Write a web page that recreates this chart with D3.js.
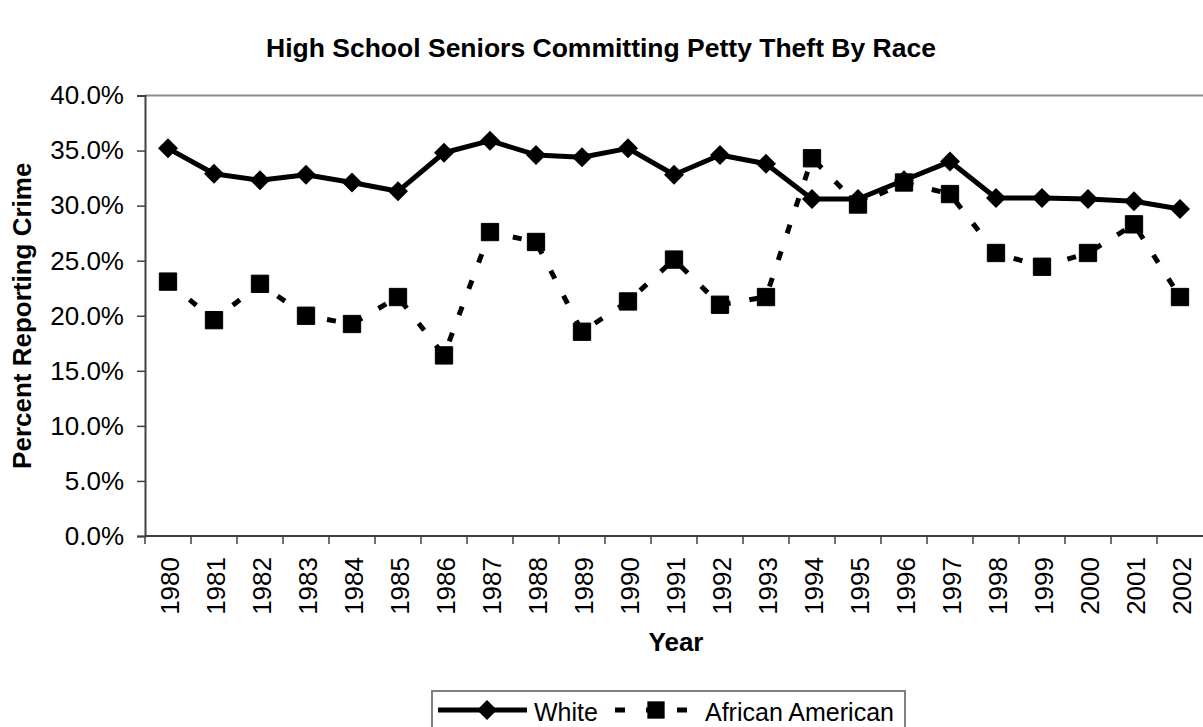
<!DOCTYPE html>
<html>
<head>
<meta charset="UTF-8">
<script src="https://d3js.org/d3.v7.min.js"></script>
<style>
  body { margin: 0; background: #fff; }
  text { font-family: "Liberation Sans", Arial, sans-serif; fill: #000; }
</style>
</head>
<body>
<svg width="1203" height="727"></svg>
<script>
// data
var years = ["1980","1981","1982","1983","1984","1985","1986","1987","1988","1989","1990",
             "1991","1992","1993","1994","1995","1996","1997","1998","1999","2000","2001","2002"];
var white = [35.2, 32.9, 32.3, 32.8, 32.1, 31.3, 34.8, 35.9, 34.6, 34.4, 35.2,
             32.8, 34.6, 33.8, 30.6, 30.6, 32.3, 34.0, 30.7, 30.7, 30.6, 30.4, 29.7];
var african = [23.1, 19.6, 22.9, 20.0, 19.25, 21.7, 16.4, 27.6, 26.7, 18.55, 21.3,
               25.1, 21.0, 21.7, 34.3, 30.1, 32.1, 31.05, 25.7, 24.45, 25.7, 28.3, 21.7];
var yTicks = [0, 5, 10, 15, 20, 25, 30, 35, 40];
var seriesNames = ["White", "African American"];

var svg = d3.select("svg");
var plotL = 145, plotR = 1203, plotT = 95.5, plotB = 536;

var x = d3.scaleBand().domain(years).range([plotL, plotR]).padding(0);
var y = d3.scaleLinear().domain([0, 40]).range([plotB, plotT]);

// title
svg.append("text")
  .attr("x", 601).attr("y", 57)
  .attr("text-anchor", "middle")
  .attr("font-size", "26.5px").attr("font-weight", "bold")
  .text("High School Seniors Committing Petty Theft By Race");

// top border
svg.append("line")
  .attr("x1", plotL).attr("x2", plotR).attr("y1", plotT).attr("y2", plotT)
  .attr("stroke", "#8c8c8c").attr("stroke-width", 2);

// y axis
var yAxis = svg.append("g")
  .attr("transform", "translate(" + plotL + ",0)")
  .call(d3.axisLeft(y).tickValues(yTicks).tickSize(8).tickPadding(13)
        .tickFormat(function(d) { return d.toFixed(1) + "%"; }));
yAxis.select(".domain").attr("stroke", "#404040").attr("stroke-width", 2);
yAxis.selectAll(".tick line").attr("stroke", "#404040").attr("stroke-width", 1.5);
yAxis.selectAll(".tick text").attr("font-size", "26px")
  .attr("font-family", "'Liberation Sans', Arial, sans-serif").attr("fill", "#000");

// x axis line
svg.append("line")
  .attr("x1", plotL).attr("x2", plotR).attr("y1", plotB).attr("y2", plotB)
  .attr("stroke", "#404040").attr("stroke-width", 2);

// x ticks between categories
svg.selectAll(".xtick")
  .data(years)
  .enter().append("line")
  .attr("class", "xtick")
  .attr("x1", function(d) { return x(d); })
  .attr("x2", function(d) { return x(d); })
  .attr("y1", plotB).attr("y2", plotB + 8)
  .attr("stroke", "#404040").attr("stroke-width", 1.5);

// x labels rotated
svg.selectAll(".xlab")
  .data(years)
  .enter().append("text")
  .attr("class", "xlab")
  .attr("transform", function(d) {
    return "translate(" + (x(d) + x.bandwidth() / 2 + 11) + "," + (plotB + 21) + ") rotate(-90)";
  })
  .attr("text-anchor", "end")
  .attr("font-size", "26px")
  .text(function(d) { return d; });

// axis titles
svg.append("text")
  .attr("x", 676).attr("y", 651)
  .attr("text-anchor", "middle")
  .attr("font-size", "26px").attr("font-weight", "bold")
  .text("Year");

svg.append("text")
  .attr("transform", "translate(31," + ((plotT + plotB) / 2) + ") rotate(-90)")
  .attr("text-anchor", "middle")
  .attr("font-size", "26px").attr("font-weight", "bold")
  .text("Percent Reporting Crime");

var cx = function(d, i) { return x(years[i]) + x.bandwidth() / 2; };
var line = d3.line().x(cx).y(function(d) { return y(d); });

// African American (dashed)
svg.append("path")
  .datum(african)
  .attr("d", line)
  .attr("fill", "none").attr("stroke", "#000")
  .attr("stroke-width", 5).attr("stroke-dasharray", "9,19");

// White (solid)
svg.append("path")
  .datum(white)
  .attr("d", line)
  .attr("fill", "none").attr("stroke", "#000")
  .attr("stroke-width", 5).attr("stroke-linejoin", "round");

var diamond = d3.symbol().type(d3.symbolSquare).size(200);
var square = d3.symbol().type(d3.symbolSquare).size(300);

svg.selectAll(".sq")
  .data(african)
  .enter().append("path")
  .attr("class", "sq")
  .attr("d", square)
  .attr("transform", function(d, i) { return "translate(" + cx(d, i) + "," + y(d) + ")"; })
  .attr("fill", "#000").attr("stroke", "#000").attr("stroke-width", 1).attr("stroke-linejoin", "round");

svg.selectAll(".dm")
  .data(white)
  .enter().append("path")
  .attr("class", "dm")
  .attr("d", diamond)
  .attr("transform", function(d, i) { return "translate(" + cx(d, i) + "," + y(d) + ") rotate(45)"; })
  .attr("fill", "#000");

// legend
var lg = svg.append("g");
lg.append("rect")
  .attr("x", 432).attr("y", 691).attr("width", 473).attr("height", 50)
  .attr("fill", "#fff").attr("stroke", "#808080").attr("stroke-width", 2);

lg.append("line")
  .attr("x1", 438).attr("x2", 527).attr("y1", 710).attr("y2", 710)
  .attr("stroke", "#000").attr("stroke-width", 5);
lg.append("path").attr("d", diamond)
  .attr("transform", "translate(487,710) rotate(45)").attr("fill", "#000");
lg.append("text").attr("x", 534).attr("y", 721).attr("font-size", "25px").text(seriesNames[0]);

lg.append("line")
  .attr("x1", 615).attr("x2", 688).attr("y1", 710).attr("y2", 710)
  .attr("stroke", "#000").attr("stroke-width", 5).attr("stroke-dasharray", "10,21");
lg.append("path").attr("d", square)
  .attr("transform", "translate(656,710)").attr("fill", "#000");
lg.append("text").attr("x", 705).attr("y", 721).attr("font-size", "25px").text(seriesNames[1]);
</script>
</body>
</html>
